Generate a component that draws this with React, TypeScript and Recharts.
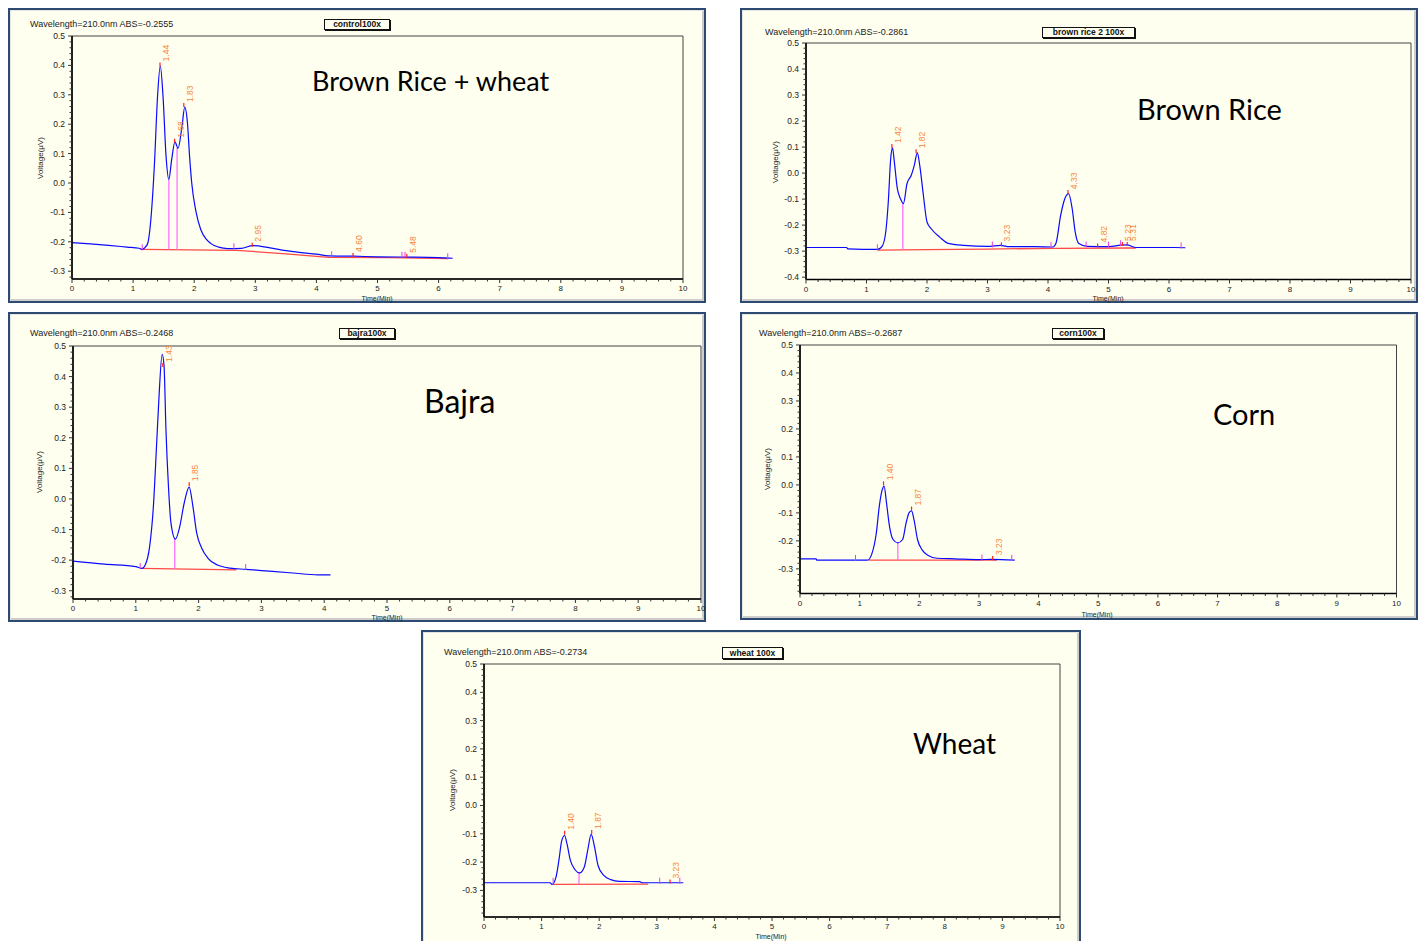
import React from "react";
import {
  ComposedChart,
  Line,
  Scatter,
  XAxis,
  YAxis,
  ReferenceLine,
  ReferenceArea,
} from "recharts";

type Pt = { t: number; v: number };
type Peak = { t: number; v: number; label: string };
type Drop = { t: number; top: number; bottom: number };

// ---- axis labels ----
const timeLabels = [0, 1, 2, 3, 4, 5, 6, 7, 8, 9, 10];
const voltLabels = [-0.4, -0.3, -0.2, -0.1, 0, 0.1, 0.2, 0.3, 0.4, 0.5];

// ---- Brown Rice + wheat (control100x) ----
const mixTrace: Pt[] = [
  { t: 0, v: -0.203 }, { t: 0.3, v: -0.207 }, { t: 0.6, v: -0.212 }, { t: 0.9, v: -0.218 },
  { t: 1.1, v: -0.222 }, { t: 1.15, v: -0.226 }, { t: 1.2, v: -0.218 }, { t: 1.24, v: -0.205 },
  { t: 1.29, v: -0.126 }, { t: 1.35, v: 0.067 }, { t: 1.4, v: 0.294 }, { t: 1.445, v: 0.398 },
  { t: 1.49, v: 0.294 }, { t: 1.54, v: 0.089 }, { t: 1.585, v: 0.012 }, { t: 1.63, v: 0.078 },
  { t: 1.685, v: 0.14 }, { t: 1.735, v: 0.118 }, { t: 1.8, v: 0.192 }, { t: 1.845, v: 0.258 },
  { t: 1.89, v: 0.203 }, { t: 1.925, v: 0.089 }, { t: 1.96, v: -0.001 }, { t: 2.03, v: -0.098 },
  { t: 2.11, v: -0.16 }, { t: 2.2, v: -0.192 }, { t: 2.28, v: -0.207 }, { t: 2.4, v: -0.218 },
  { t: 2.55, v: -0.223 }, { t: 2.77, v: -0.222 }, { t: 2.96, v: -0.213 }, { t: 3.2, v: -0.219 },
  { t: 3.5, v: -0.23 }, { t: 3.75, v: -0.237 }, { t: 4.0, v: -0.242 }, { t: 4.2, v: -0.248 },
  { t: 4.6, v: -0.249 }, { t: 5.0, v: -0.251 }, { t: 5.5, v: -0.252 }, { t: 6.0, v: -0.254 },
  { t: 6.23, v: -0.256 },
];
const mixBase: Pt[] = [
  { t: 1.15, v: -0.226 }, { t: 2.7, v: -0.229 }, { t: 3.5, v: -0.241 }, { t: 4.2, v: -0.253 },
  { t: 5.2, v: -0.254 }, { t: 6.15, v: -0.257 },
];
const mixDrops: Drop[] = [
  { t: 1.585, top: 0.012, bottom: -0.226 },
  { t: 1.72, top: 0.118, bottom: -0.227 },
];
const mixPeaks: Peak[] = [
  { t: 1.44, v: 0.4, label: "1.44" },
  { t: 1.68, v: 0.14, label: "1.68" },
  { t: 1.83, v: 0.262, label: "1.83" },
  { t: 2.95, v: -0.213, label: "2.95" },
  { t: 4.6, v: -0.248, label: "4.60" },
  { t: 5.48, v: -0.251, label: "5.48" },
];
const mixMarks: Pt[] = [
  { t: 1.15, v: -0.226 }, { t: 2.65, v: -0.222 }, { t: 4.25, v: -0.249 },
  { t: 5.4, v: -0.251 }, { t: 5.45, v: -0.251 }, { t: 6.15, v: -0.256 },
];

// ---- Brown Rice (brown rice 2 100x) ----
const riceTrace: Pt[] = [
  { t: 0, v: -0.286 }, { t: 0.67, v: -0.286 }, { t: 0.69, v: -0.291 }, { t: 1.18, v: -0.293 },
  { t: 1.25, v: -0.284 }, { t: 1.31, v: -0.24 }, { t: 1.36, v: -0.111 }, { t: 1.4, v: 0.056 },
  { t: 1.43, v: 0.097 }, { t: 1.46, v: 0.043 }, { t: 1.51, v: -0.06 }, { t: 1.56, v: -0.098 },
  { t: 1.61, v: -0.117 }, { t: 1.67, v: -0.04 }, { t: 1.74, v: -0.008 }, { t: 1.79, v: 0.03 },
  { t: 1.84, v: 0.078 }, { t: 1.88, v: 0.03 }, { t: 1.94, v: -0.085 }, { t: 2.0, v: -0.188 },
  { t: 2.07, v: -0.214 }, { t: 2.21, v: -0.246 }, { t: 2.35, v: -0.27 }, { t: 2.61, v: -0.278 },
  { t: 3.0, v: -0.282 }, { t: 3.22, v: -0.278 }, { t: 3.36, v: -0.283 }, { t: 3.79, v: -0.283 },
  { t: 4.08, v: -0.284 }, { t: 4.13, v: -0.271 }, { t: 4.21, v: -0.162 }, { t: 4.26, v: -0.111 },
  { t: 4.34, v: -0.079 }, { t: 4.4, v: -0.137 }, { t: 4.45, v: -0.227 }, { t: 4.51, v: -0.271 },
  { t: 4.65, v: -0.282 }, { t: 5.01, v: -0.283 }, { t: 5.2, v: -0.277 }, { t: 5.3, v: -0.276 },
  { t: 5.46, v: -0.286 }, { t: 6.09, v: -0.286 }, { t: 6.27, v: -0.287 },
];
const riceBase: Pt[] = [
  { t: 1.18, v: -0.296 }, { t: 2.0, v: -0.294 }, { t: 3.0, v: -0.292 }, { t: 4.1, v: -0.289 },
  { t: 5.45, v: -0.288 },
];
const riceDrops: Drop[] = [{ t: 1.6, top: -0.117, bottom: -0.295 }];
const ricePeaks: Peak[] = [
  { t: 1.42, v: 0.1, label: "1.42" },
  { t: 1.82, v: 0.08, label: "1.82" },
  { t: 3.23, v: -0.278, label: "3.23" },
  { t: 4.33, v: -0.077, label: "4.33" },
  { t: 4.82, v: -0.282, label: "4.82" },
  { t: 5.23, v: -0.276, label: "5.23" },
  { t: 5.31, v: -0.276, label: "5.31" },
];
const riceMarks: Pt[] = [
  { t: 1.18, v: -0.293 }, { t: 3.08, v: -0.282 }, { t: 4.05, v: -0.284 },
  { t: 4.63, v: -0.282 }, { t: 5.0, v: -0.283 }, { t: 5.2, v: -0.277 }, { t: 6.2, v: -0.286 },
];

// ---- Bajra (bajra100x) ----
const bajraTrace: Pt[] = [
  { t: 0, v: -0.203 }, { t: 0.5, v: -0.213 }, { t: 1.0, v: -0.221 }, { t: 1.1, v: -0.227 },
  { t: 1.15, v: -0.216 }, { t: 1.22, v: -0.156 }, { t: 1.28, v: -0.025 }, { t: 1.33, v: 0.172 },
  { t: 1.37, v: 0.336 }, { t: 1.42, v: 0.473 }, { t: 1.45, v: 0.434 }, { t: 1.48, v: 0.227 },
  { t: 1.52, v: 0.041 }, { t: 1.56, v: -0.079 }, { t: 1.63, v: -0.131 }, { t: 1.7, v: -0.09 },
  { t: 1.77, v: -0.014 }, { t: 1.85, v: 0.039 }, { t: 1.91, v: -0.025 }, { t: 1.97, v: -0.112 },
  { t: 2.05, v: -0.161 }, { t: 2.15, v: -0.194 }, { t: 2.3, v: -0.216 }, { t: 2.5, v: -0.226 },
  { t: 2.75, v: -0.23 }, { t: 3.0, v: -0.234 }, { t: 3.5, v: -0.242 }, { t: 3.9, v: -0.248 },
  { t: 4.1, v: -0.248 },
];
const bajraBase: Pt[] = [{ t: 1.08, v: -0.227 }, { t: 2.6, v: -0.232 }];
const bajraDrops: Drop[] = [{ t: 1.62, top: -0.131, bottom: -0.229 }];
const bajraPeaks: Peak[] = [
  { t: 1.43, v: 0.435, label: "1.43" },
  { t: 1.85, v: 0.045, label: "1.85" },
];
const bajraMarks: Pt[] = [{ t: 1.07, v: -0.226 }, { t: 2.75, v: -0.229 }];

// ---- Corn (corn100x) ----
const cornTrace: Pt[] = [
  { t: 0, v: -0.264 }, { t: 0.27, v: -0.264 }, { t: 0.28, v: -0.269 }, { t: 1.13, v: -0.269 },
  { t: 1.2, v: -0.249 }, { t: 1.28, v: -0.171 }, { t: 1.33, v: -0.075 }, { t: 1.38, v: -0.016 },
  { t: 1.41, v: -0.004 }, { t: 1.45, v: -0.064 }, { t: 1.5, v: -0.147 }, { t: 1.56, v: -0.195 },
  { t: 1.64, v: -0.207 }, { t: 1.72, v: -0.195 }, { t: 1.78, v: -0.135 }, { t: 1.83, v: -0.099 },
  { t: 1.87, v: -0.093 }, { t: 1.91, v: -0.123 }, { t: 1.97, v: -0.195 }, { t: 2.05, v: -0.233 },
  { t: 2.15, v: -0.252 }, { t: 2.3, v: -0.262 }, { t: 2.6, v: -0.264 }, { t: 3.0, v: -0.267 },
  { t: 3.2, v: -0.266 }, { t: 3.6, v: -0.269 },
];
const cornBase: Pt[] = [{ t: 1.15, v: -0.269 }, { t: 3.3, v: -0.269 }];
const cornDrops: Drop[] = [{ t: 1.64, top: -0.207, bottom: -0.269 }];
const cornPeaks: Peak[] = [
  { t: 1.4, v: 0.002, label: "1.40" },
  { t: 1.87, v: -0.088, label: "1.87" },
  { t: 3.23, v: -0.265, label: "3.23" },
];
const cornMarks: Pt[] = [{ t: 0.93, v: -0.268 }, { t: 3.05, v: -0.267 }, { t: 3.55, v: -0.268 }];

// ---- Wheat (wheat 100x) ----
const wheatTrace: Pt[] = [
  { t: 0, v: -0.273 }, { t: 1.15, v: -0.273 }, { t: 1.18, v: -0.279 }, { t: 1.25, v: -0.253 },
  { t: 1.3, v: -0.194 }, { t: 1.35, v: -0.124 }, { t: 1.4, v: -0.106 }, { t: 1.44, v: -0.135 },
  { t: 1.5, v: -0.194 }, { t: 1.58, v: -0.227 }, { t: 1.66, v: -0.238 }, { t: 1.74, v: -0.218 },
  { t: 1.8, v: -0.159 }, { t: 1.86, v: -0.102 }, { t: 1.92, v: -0.147 }, { t: 1.98, v: -0.212 },
  { t: 2.08, v: -0.247 }, { t: 2.2, v: -0.262 }, { t: 2.35, v: -0.268 }, { t: 2.7, v: -0.269 },
  { t: 2.75, v: -0.273 }, { t: 3.46, v: -0.273 },
];
const wheatBase: Pt[] = [{ t: 1.2, v: -0.279 }, { t: 2.85, v: -0.278 }];
const wheatDrops: Drop[] = [{ t: 1.65, top: -0.238, bottom: -0.278 }];
const wheatPeaks: Peak[] = [
  { t: 1.4, v: -0.1, label: "1.40" },
  { t: 1.87, v: -0.097, label: "1.87" },
  { t: 3.23, v: -0.272, label: "3.23" },
];
const wheatMarks: Pt[] = [{ t: 1.2, v: -0.273 }, { t: 3.05, v: -0.273 }, { t: 3.4, v: -0.273 }];

// minor ticks every 0.2 min / 0.02 uV
const xTicks = Array.from({ length: 51 }, (_, i) => i / 5);
const yTicksFrom = (min: number) => {
  const out: number[] = [];
  for (let k = Math.ceil(min / 0.02 - 1e-6); k <= 25; k++) out.push(Math.round(k * 2) / 100);
  return out;
};

const SANS = "'Liberation Sans', Arial, sans-serif";

const XTick = (p: any) => {
  const { x, y, payload } = p;
  const val = payload.value;
  const major = timeLabels.some((m) => Math.abs(m - val) < 1e-6);
  return (
    <g>
      <line x1={x} x2={x} y1={y} y2={y + (major ? 4 : 2.5)} stroke="#333" />
      {major && (
        <text x={x} y={y + 12} textAnchor="middle" fontSize={8} fontFamily={SANS} fill="#222">
          {Math.round(val)}
        </text>
      )}
    </g>
  );
};

const YTick = (p: any) => {
  const { x, y, payload } = p;
  const val = payload.value;
  const major = voltLabels.some((m) => Math.abs(m - val) < 1e-6);
  return (
    <g>
      <line x1={x} x2={x - (major ? 4 : 2.5)} y1={y} y2={y} stroke="#333" />
      {major && (
        <text x={x - 7} y={y + 3} textAnchor="end" fontSize={8.5} fontFamily={SANS} fill="#222">
          {(Math.round(val * 10) / 10).toFixed(1)}
        </text>
      )}
    </g>
  );
};

const PeakShape = (p: any) => {
  const { cx, cy, payload } = p;
  if (cx == null || cy == null) return <g />;
  const lx = cx + 9;
  const ly = cy - 4;
  return (
    <g>
      <line x1={cx} x2={cx} y1={cy - 3} y2={cy + 1} stroke="#ff2020" strokeWidth={1.2} />
      <text
        x={lx}
        y={ly}
        transform={`rotate(-90 ${lx} ${ly})`}
        fontSize={8.5}
        fontFamily={SANS}
        fill="#f7873a"
      >
        {payload.label}
      </text>
    </g>
  );
};

const MarkShape = (p: any) => {
  const { cx, cy } = p;
  if (cx == null || cy == null) return <g />;
  return <line x1={cx} x2={cx} y1={cy - 5} y2={cy + 1} stroke="#e040e0" strokeWidth={1} />;
};

interface Spec {
  frame: { x: number; y: number; w: number; h: number };
  plot: { l: number; t: number; r: number; b: number };
  yMin: number;
  header: string;
  headerPos: [number, number];
  box: string;
  boxRect: { x: number; y: number; w: number; h: number };
  title: string;
  titlePos: { x: number; capTop: number; size: number };
  vLabel: [number, number];
  tLabel: [number, number];
  trace: Pt[];
  base: Pt[];
  drops: Drop[];
  peaks: Peak[];
  marks: Pt[];
}

const specs: Spec[] = [
  {
    frame: { x: 8, y: 8, w: 698, h: 295 },
    plot: { l: 71.5, t: 36, r: 682.5, b: 279 },
    yMin: -0.3265,
    header: "Wavelength=210.0nm ABS=-0.2555",
    headerPos: [30, 24],
    box: "control100x",
    boxRect: { x: 324, y: 19, w: 66, h: 11 },
    title: "Brown Rice + wheat",
    titlePos: { x: 312, capTop: 71.5, size: 27 },
    vLabel: [40, 158],
    tLabel: [377, 297.5],
    trace: mixTrace, base: mixBase, drops: mixDrops, peaks: mixPeaks, marks: mixMarks,
  },
  {
    frame: { x: 740, y: 8, w: 678, h: 295 },
    plot: { l: 806, t: 43, r: 1411, b: 279.5 },
    yMin: -0.409,
    header: "Wavelength=210.0nm ABS=-0.2861",
    headerPos: [765, 31.5],
    box: "brown rice 2 100x",
    boxRect: { x: 1042, y: 26.5, w: 93, h: 11 },
    title: "Brown Rice",
    titlePos: { x: 1137, capTop: 99, size: 29 },
    vLabel: [775, 162],
    tLabel: [1108, 297.5],
    trace: riceTrace, base: riceBase, drops: riceDrops, peaks: ricePeaks, marks: riceMarks,
  },
  {
    frame: { x: 8, y: 312, w: 698, h: 310 },
    plot: { l: 73, t: 345.5, r: 701, b: 598.5 },
    yMin: -0.327,
    header: "Wavelength=210.0nm ABS=-0.2468",
    headerPos: [30, 333],
    box: "bajra100x",
    boxRect: { x: 339, y: 328, w: 56, h: 11 },
    title: "Bajra",
    titlePos: { x: 424, capTop: 390.5, size: 32 },
    vLabel: [39, 472],
    tLabel: [387, 616.5],
    trace: bajraTrace, base: bajraBase, drops: bajraDrops, peaks: bajraPeaks, marks: bajraMarks,
  },
  {
    frame: { x: 740, y: 312, w: 678, h: 308 },
    plot: { l: 799.5, t: 345, r: 1396, b: 593.5 },
    yMin: -0.388,
    header: "Wavelength=210.0nm ABS=-0.2687",
    headerPos: [759, 333],
    box: "corn100x",
    boxRect: { x: 1052, y: 328, w: 52, h: 11 },
    title: "Corn",
    titlePos: { x: 1213, capTop: 404, size: 29 },
    vLabel: [767, 469],
    tLabel: [1097, 613.5],
    trace: cornTrace, base: cornBase, drops: cornDrops, peaks: cornPeaks, marks: cornMarks,
  },
  {
    frame: { x: 421, y: 630, w: 660, h: 320 },
    plot: { l: 484, t: 663.5, r: 1060, b: 916.5 },
    yMin: -0.394,
    header: "Wavelength=210.0nm ABS=-0.2734",
    headerPos: [444, 651.5],
    box: "wheat 100x",
    boxRect: { x: 722, y: 646.5, w: 61, h: 12 },
    title: "Wheat",
    titlePos: { x: 913, capTop: 734, size: 28 },
    vLabel: [452, 790],
    tLabel: [771, 935.5],
    trace: wheatTrace, base: wheatBase, drops: wheatDrops, peaks: wheatPeaks, marks: wheatMarks,
  },
];

const YW = 40;
const XH = 24;
const MT = 8;
const MR = 12;

function Panel({ s }: { s: Spec }) {
  const { frame, plot } = s;
  const pw = plot.r - plot.l;
  const ph = plot.b - plot.t;
  const fx = (x: number) => x - frame.x;
  const fy = (y: number) => y - frame.y;
  const yTicks = yTicksFrom(s.yMin);
  return (
    <div
      style={{
        position: "absolute",
        left: frame.x,
        top: frame.y,
        width: frame.w,
        height: frame.h,
        background: "#fffff0",
        overflow: "hidden",
        fontFamily: SANS,
        color: "#222",
      }}
    >
      <div
        style={{
          position: "absolute",
          left: 0,
          top: 0,
          width: frame.w,
          height: frame.h,
          boxSizing: "border-box",
          border: "2px solid #2d4b70",
          boxShadow: "inset 1px 1px 0 #e4e4e4, inset -2px -2px 0 #cdcdcd",
        }}
      />
      <div style={{ position: "absolute", left: fx(s.headerPos[0]), top: fy(s.headerPos[1]) - 6, fontSize: 9, lineHeight: "12px", whiteSpace: "nowrap" }}>
        {s.header}
      </div>
      <div
        style={{
          position: "absolute",
          left: fx(s.boxRect.x),
          top: fy(s.boxRect.y),
          width: s.boxRect.w,
          height: s.boxRect.h,
          boxSizing: "border-box",
          border: "1px solid #111",
          boxShadow: "1px 1px 0 #111",
          background: "#fffff0",
          fontSize: 8.5,
          fontWeight: "bold",
          lineHeight: `${s.boxRect.h - 2}px`,
          textAlign: "center",
          whiteSpace: "nowrap",
          color: "#111",
        }}
      >
        {s.box}
      </div>
      <div
        style={{
          position: "absolute",
          left: fx(s.titlePos.x),
          top: fy(s.titlePos.capTop) - 0.167 * s.titlePos.size,
          fontFamily: "Lato, 'Open Sans', sans-serif",
          fontSize: s.titlePos.size,
          lineHeight: 1,
          whiteSpace: "nowrap",
          color: "#000",
        }}
      >
        {s.title}
      </div>
      <div
        style={{
          position: "absolute",
          left: fx(s.vLabel[0]),
          top: fy(s.vLabel[1]),
          transform: "translate(-50%, -50%) rotate(-90deg)",
          fontSize: 8,
          whiteSpace: "nowrap",
        }}
      >
        Voltage(μV)
      </div>
      <div
        style={{
          position: "absolute",
          left: fx(s.tLabel[0]),
          top: fy(s.tLabel[1]),
          transform: "translate(-50%, -50%)",
          fontSize: 7,
          lineHeight: "7px",
          whiteSpace: "nowrap",
        }}
      >
        Time(Min)
      </div>
      <div style={{ position: "absolute", left: fx(plot.l) - YW, top: fy(plot.t) - MT }}>
        <ComposedChart
          width={pw + YW + MR}
          height={ph + MT + XH}
          margin={{ top: MT, right: MR, bottom: 0, left: 0 }}
        >
          <XAxis
            dataKey="t"
            type="number"
            domain={[0, 10]}
            ticks={xTicks}
            interval={0}
            tickLine={false}
            tickSize={0}
            tickMargin={0}
            tick={XTick}
            height={XH}
            axisLine={{ stroke: "#000", strokeWidth: 1.6 }}
          />
          <YAxis
            dataKey="v"
            type="number"
            domain={[s.yMin, 0.5]}
            ticks={yTicks}
            interval={0}
            tickLine={false}
            tickSize={0}
            tickMargin={0}
            tick={YTick}
            width={YW}
            axisLine={{ stroke: "#000", strokeWidth: 1.6 }}
          />
          <ReferenceArea x1={0} x2={10} y1={s.yMin} y2={0.5} fill="none" fillOpacity={0} stroke="#444" strokeWidth={1} />
          <Line
            data={s.base}
            dataKey="v"
            type="linear"
            stroke="#ff4848"
            strokeWidth={1.3}
            dot={false}
            activeDot={false}
            isAnimationActive={false}
          />
          {s.drops.map((d, i) => (
            <ReferenceLine
              key={i}
              segment={[{ x: d.t, y: d.top }, { x: d.t, y: d.bottom }]}
              stroke="#ff70ff"
              strokeWidth={1.3}
            />
          ))}
          <Line
            data={s.trace}
            dataKey="v"
            type="monotone"
            stroke="#0a0aff"
            strokeWidth={1.2}
            dot={false}
            activeDot={false}
            isAnimationActive={false}
          />
          <Scatter data={s.marks} dataKey="v" shape={MarkShape} isAnimationActive={false} />
          <Scatter data={s.peaks} dataKey="v" shape={PeakShape} isAnimationActive={false} />
        </ComposedChart>
      </div>
    </div>
  );
}

export default function App() {
  return (
    <div
      style={{
        position: "fixed",
        left: 0,
        top: 0,
        width: 1427,
        height: 941,
        background: "#ffffff",
        overflow: "hidden",
      }}
    >
      {specs.map((s, i) => (
        <Panel key={i} s={s} />
      ))}
    </div>
  );
}
